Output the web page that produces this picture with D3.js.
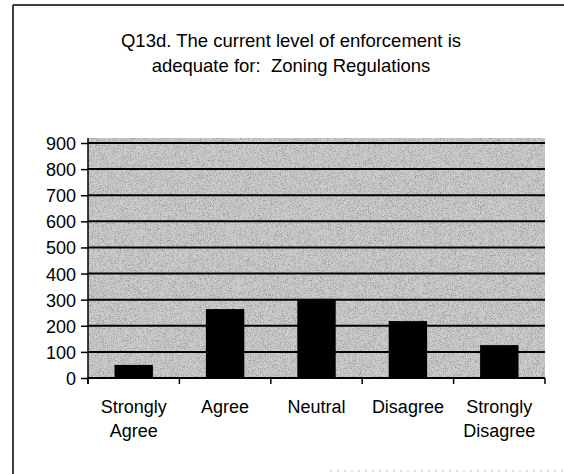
<!DOCTYPE html>
<html>
<head>
<meta charset="utf-8">
<script src="https://cdn.jsdelivr.net/npm/d3@7"></script>
<style>
  html, body { margin: 0; padding: 0; background: #fff; }
  svg { display: block; font-family: "Liberation Sans", Arial, sans-serif; }
  text, tspan { white-space: pre; }
</style>
</head>
<body>
<svg id="chart" width="564" height="474"></svg>
<script>
const categories = [["Strongly", "Agree"], ["Agree"], ["Neutral"], ["Disagree"], ["Strongly", "Disagree"]];
const values = [50, 264, 303, 218, 126];
const yTicks = [0, 100, 200, 300, 400, 500, 600, 700, 800, 900];
const titleLines = ["Q13d. The current level of enforcement is", "adequate for:  Zoning Regulations"];

const svg = d3.select("#chart");
const W = 564, H = 474;
const plot = { left: 88, right: 545, top: 143, bottom: 378 };

// Texture filter for the stippled plot background
const defs = svg.append("defs");
const f = defs.append("filter").attr("id", "stipple").attr("x", 0).attr("y", 0).attr("width", 1).attr("height", 1);
f.append("feTurbulence").attr("type", "fractalNoise").attr("baseFrequency", 1.4).attr("numOctaves", 1).attr("seed", 5).attr("result", "n");
f.append("feColorMatrix").attr("in", "n").attr("type", "matrix")
  .attr("values", "0 0 0 0 0.25  0 0 0 0 0.25  0 0 0 0 0.25  0 0 0 2.6 -1.15").attr("result", "dots");
f.append("feFlood").attr("flood-color", "#cdcdcd").attr("result", "bg");
f.append("feComposite").attr("in", "dots").attr("in2", "SourceGraphic").attr("operator", "in").attr("result", "d2");
f.append("feMerge").selectAll("feMergeNode").data(["bg", "d2"]).enter().append("feMergeNode").attr("in", d => d);

// Outer border
svg.append("line").attr("x1", 13).attr("x2", W).attr("y1", 5).attr("y2", 5).attr("stroke", "#000").attr("stroke-width", 1.5);
svg.append("line").attr("x1", 13).attr("x2", 13).attr("y1", 5).attr("y2", H).attr("stroke", "#000").attr("stroke-width", 1.5);
svg.append("line").attr("x1", 330).attr("x2", W).attr("y1", 471).attr("y2", 471).attr("stroke", "#bbb").attr("stroke-width", 1).attr("stroke-dasharray", "2,5");

// Title
svg.append("text").attr("text-anchor", "middle").attr("font-size", 18.5).attr("fill", "#000")
  .selectAll("tspan").data(titleLines).enter().append("tspan")
  .attr("x", 291).attr("y", (d, i) => 47 + i * 25).text(d => d);

// Scales
const x = d3.scaleBand().domain(d3.range(categories.length))
  .range([plot.left, plot.right]).paddingInner(0.58).paddingOuter(0.29);
const y = d3.scaleLinear().domain([0, 900]).range([plot.bottom, plot.top]);

// Plot background
svg.append("rect").attr("x", plot.left).attr("y", y(900) - 5)
  .attr("width", plot.right - plot.left).attr("height", plot.bottom - y(900) + 5)
  .attr("fill", "#cdcdcd").attr("filter", "url(#stipple)");

// Gridlines
svg.append("g").selectAll("line").data(yTicks.filter(d => d > 0)).enter().append("line")
  .attr("x1", plot.left).attr("x2", plot.right)
  .attr("y1", d => y(d)).attr("y2", d => y(d))
  .attr("stroke", "#000").attr("stroke-width", 2);

// Bars
svg.append("g").selectAll("rect").data(values).enter().append("rect")
  .attr("x", (d, i) => x(i)).attr("width", x.bandwidth())
  .attr("y", d => y(d)).attr("height", d => y(0) - y(d))
  .attr("fill", "#000");

// Y axis
const yAxis = d3.axisLeft(y).tickValues(yTicks).tickSize(7).tickPadding(5).tickFormat(d3.format("d"));
const gy = svg.append("g").attr("transform", `translate(${plot.left},0)`).call(yAxis);
gy.select(".domain").attr("stroke", "#000").attr("stroke-width", 1.5).attr("d", `M0,${y(900) - 5}V${plot.bottom + 6}`);
gy.selectAll(".tick line").attr("stroke", "#000").attr("stroke-width", 1.5);
gy.selectAll(".tick text").attr("font-size", 18).attr("fill", "#000").attr("font-family", "Liberation Sans, Arial, sans-serif").attr("dy", "0.36em");

// X axis (ticks at category boundaries)
const boundaries = d3.range(categories.length + 1).map(i => plot.left + i * x.step());
svg.append("line").attr("x1", plot.left).attr("x2", plot.right).attr("y1", plot.bottom).attr("y2", plot.bottom)
  .attr("stroke", "#000").attr("stroke-width", 2);
svg.append("g").selectAll("line").data(boundaries).enter().append("line")
  .attr("x1", d => d).attr("x2", d => d).attr("y1", plot.bottom).attr("y2", plot.bottom + 6)
  .attr("stroke", "#000").attr("stroke-width", 1.5);

// X labels
const xl = svg.append("g").selectAll("text").data(categories).enter().append("text")
  .attr("text-anchor", "middle").attr("font-size", 18).attr("fill", "#000");
xl.selectAll("tspan").data((d, i) => d.map(t => ({ t, i }))).enter().append("tspan")
  .attr("x", d => x(d.i) + x.bandwidth() / 2)
  .attr("y", (d, j) => 413 + j * 24)
  .text(d => d.t);
</script>
</body>
</html>
